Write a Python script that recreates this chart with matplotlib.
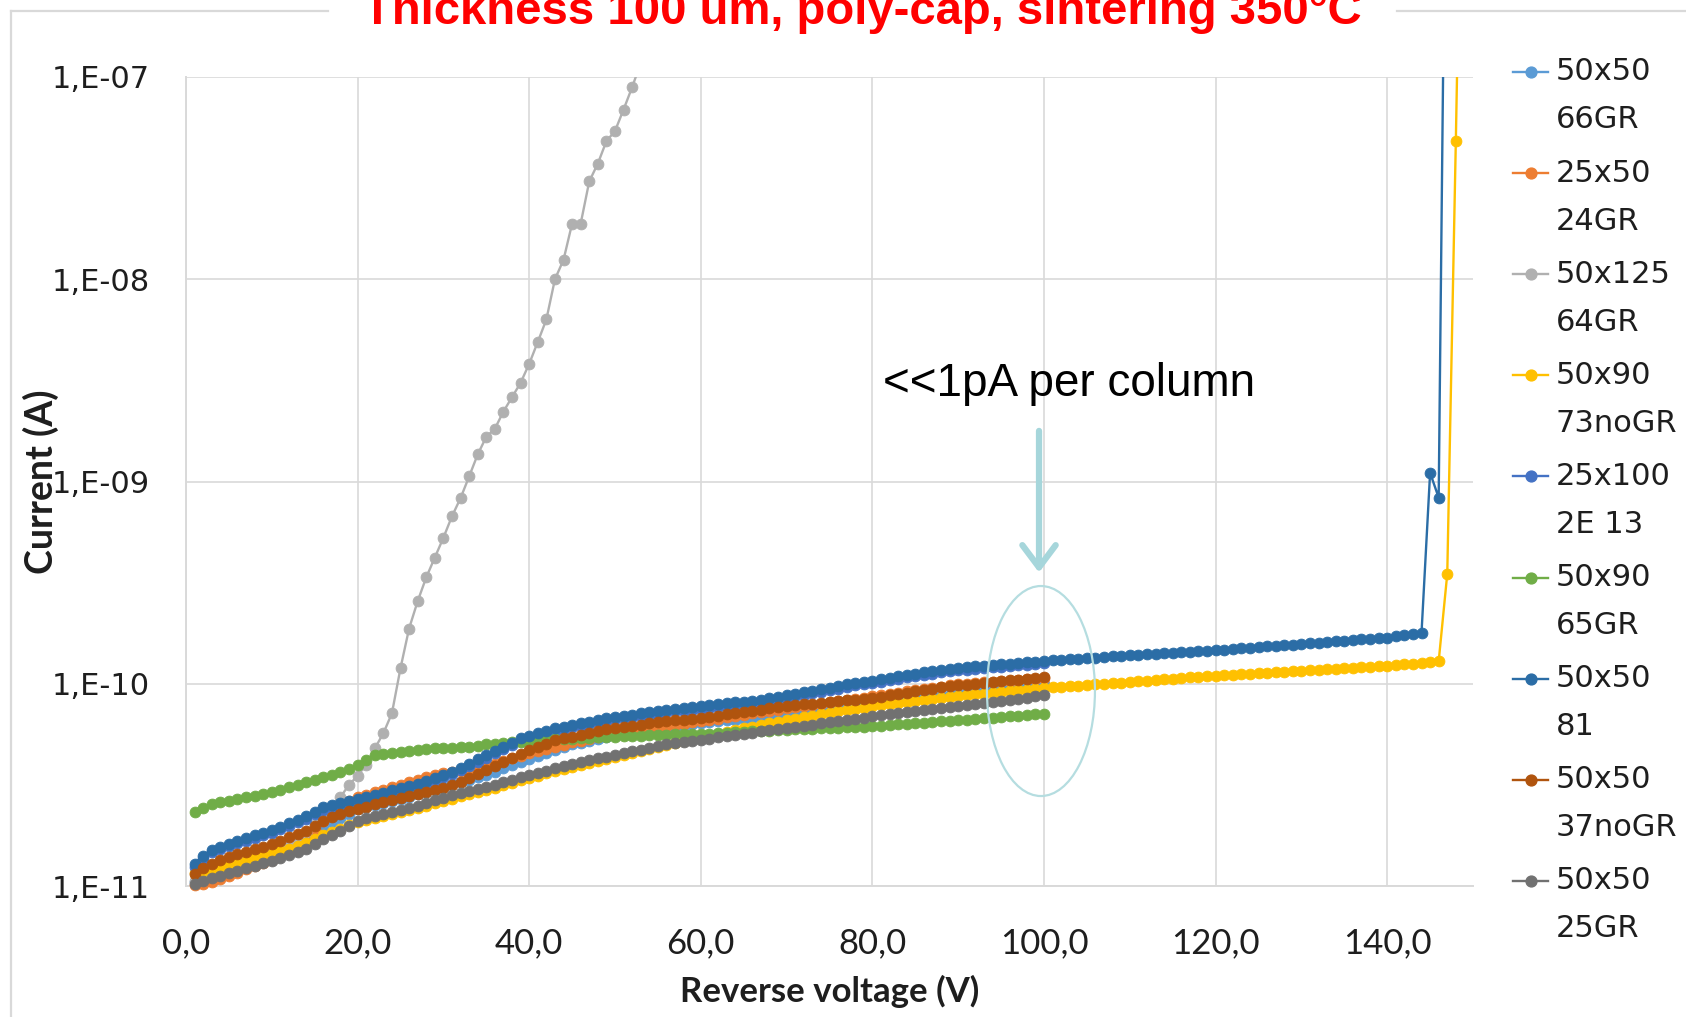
import matplotlib
matplotlib.use("Agg")
import matplotlib.pyplot as plt
from matplotlib.lines import Line2D
from matplotlib.patches import Ellipse, FancyArrowPatch
from matplotlib.transforms import Bbox, TransformedBbox
from matplotlib.ticker import NullLocator

# ---------------------------------------------------------------------------
# I-V sweeps (reverse bias, 1 V steps starting at 1 V).
# Currents are stored as log10(I / A).
# ---------------------------------------------------------------------------
series_labels = ["50x50\n66GR", "25x50\n24GR", "50x125\n64GR", "50x90\n73noGR",
                 "25x100\n2E 13", "50x90\n65GR", "50x50\n81", "50x50\n37noGR",
                 "50x50\n25GR"]
series_colors = ["#5B9BD5", "#ED7D31", "#B0B0B0", "#FFC000", "#4472C4",
                 "#70AD47", "#2B6DA6", "#B0540E", "#717171"]

logi_50x50_66gr = [
    -10.980, -10.968, -10.955, -10.943, -10.930, -10.916, -10.902, -10.888, -10.874, -10.860,
    -10.834, -10.808, -10.782, -10.756, -10.730, -10.708, -10.686, -10.664, -10.642, -10.620,
    -10.610, -10.600, -10.590, -10.580, -10.570, -10.558, -10.546, -10.534, -10.522, -10.510,
    -10.498, -10.486, -10.474, -10.462, -10.450, -10.434, -10.418, -10.402, -10.386, -10.370,
    -10.356, -10.342, -10.328, -10.314, -10.300, -10.291, -10.282, -10.273, -10.264, -10.255,
    -10.249, -10.243, -10.237, -10.231, -10.225, -10.219, -10.213, -10.207, -10.201, -10.195,
    -10.190, -10.186, -10.181, -10.177, -10.172, -10.168, -10.163, -10.159, -10.154, -10.150,
    -10.145, -10.140, -10.135, -10.130, -10.125, -10.119, -10.114, -10.109, -10.103, -10.098,
    -10.093, -10.089, -10.084, -10.080, -10.075, -10.070, -10.066, -10.061, -10.057, -10.052,
    -10.047, -10.042, -10.037, -10.032, -10.027, -10.022, -10.017, -10.011, -10.006, -10.001,
]

logi_25x50_24gr = [
    -10.995, -10.988, -10.978, -10.965, -10.950, -10.935, -10.918, -10.902, -10.886, -10.870,
    -10.840, -10.810, -10.780, -10.750, -10.720, -10.680, -10.640, -10.600, -10.580, -10.560,
    -10.548, -10.536, -10.524, -10.512, -10.500, -10.487, -10.474, -10.461, -10.450, -10.440,
    -10.437, -10.433, -10.428, -10.420, -10.410, -10.396, -10.382, -10.368, -10.355, -10.343,
    -10.333, -10.323, -10.312, -10.301, -10.290, -10.281, -10.272, -10.263, -10.254, -10.245,
    -10.239, -10.233, -10.227, -10.221, -10.215, -10.209, -10.203, -10.197, -10.191, -10.185,
    -10.179, -10.172, -10.166, -10.160, -10.154, -10.147, -10.141, -10.135, -10.128, -10.122,
    -10.116, -10.110, -10.104, -10.098, -10.092, -10.086, -10.080, -10.074, -10.068, -10.062,
    -10.056, -10.050, -10.044, -10.038, -10.032, -10.026, -10.020, -10.014, -10.008, -10.002,
    -9.999, -9.996, -9.993, -9.990, -9.987, -9.984, -9.981, -9.978, -9.975, -9.972,
]

logi_50x125_64gr = [
    -10.975, -10.955, -10.940, -10.925, -10.910, -10.895, -10.880, -10.865, -10.850, -10.835,
    -10.815, -10.790, -10.765, -10.735, -10.700, -10.660, -10.610, -10.560, -10.500, -10.455,
    -10.400, -10.320, -10.245, -10.146, -9.923, -9.727, -9.592, -9.474, -9.376, -9.278,
    -9.172, -9.082, -8.975, -8.866, -8.779, -8.739, -8.654, -8.583, -8.512, -8.418,
    -8.310, -8.199, -8.000, -7.904, -7.725, -7.725, -7.516, -7.428, -7.317, -7.267,
    -7.161, -7.050, -6.930,
]

logi_50x90_73nogr = [
    -10.934, -10.925, -10.915, -10.905, -10.895, -10.885, -10.875, -10.864, -10.853, -10.842,
    -10.829, -10.815, -10.801, -10.786, -10.768, -10.750, -10.733, -10.716, -10.700, -10.685,
    -10.675, -10.665, -10.655, -10.645, -10.635, -10.625, -10.615, -10.604, -10.592, -10.580,
    -10.568, -10.557, -10.546, -10.535, -10.524, -10.513, -10.501, -10.489, -10.477, -10.465,
    -10.454, -10.443, -10.432, -10.422, -10.411, -10.401, -10.391, -10.381, -10.371, -10.361,
    -10.351, -10.341, -10.331, -10.321, -10.311, -10.302, -10.293, -10.284, -10.275, -10.266,
    -10.257, -10.248, -10.239, -10.230, -10.221, -10.212, -10.203, -10.195, -10.187, -10.179,
    -10.172, -10.165, -10.158, -10.151, -10.144, -10.137, -10.130, -10.124, -10.118, -10.112,
    -10.107, -10.101, -10.096, -10.091, -10.086, -10.081, -10.076, -10.071, -10.066, -10.061,
    -10.057, -10.053, -10.049, -10.045, -10.041, -10.037, -10.033, -10.029, -10.025, -10.021,
    -10.018, -10.015, -10.012, -10.009, -10.006, -10.003, -10.000, -9.997, -9.994, -9.991,
    -9.988, -9.985, -9.982, -9.978, -9.975, -9.972, -9.969, -9.966, -9.963, -9.960,
    -9.958, -9.955, -9.953, -9.950, -9.948, -9.945, -9.943, -9.940, -9.938, -9.935,
    -9.933, -9.930, -9.928, -9.925, -9.923, -9.920, -9.918, -9.915, -9.913, -9.910,
    -9.907, -9.903, -9.900, -9.896, -9.893, -9.889, -9.457, -7.314, -5.000,
]

logi_25x100_2e13 = [
    -10.905, -10.866, -10.834, -10.818, -10.803, -10.789, -10.776, -10.762, -10.749, -10.736,
    -10.720, -10.703, -10.685, -10.668, -10.645, -10.623, -10.612, -10.602, -10.591, -10.580,
    -10.570, -10.560, -10.550, -10.539, -10.528, -10.517, -10.506, -10.492, -10.477, -10.463,
    -10.448, -10.427, -10.407, -10.386, -10.365, -10.344, -10.323, -10.303, -10.282, -10.270,
    -10.257, -10.245, -10.233, -10.224, -10.216, -10.207, -10.199, -10.190, -10.182, -10.176,
    -10.171, -10.165, -10.159, -10.153, -10.148, -10.142, -10.137, -10.133, -10.128, -10.123,
    -10.118, -10.114, -10.109, -10.104, -10.100, -10.095, -10.090, -10.083, -10.076, -10.069,
    -10.062, -10.055, -10.048, -10.040, -10.032, -10.024, -10.015, -10.007, -10.002, -9.997,
    -9.990, -9.983, -9.976, -9.969, -9.962, -9.956, -9.950, -9.943, -9.937, -9.933,
    -9.930, -9.926, -9.922, -9.919, -9.915, -9.912, -9.909, -9.905, -9.902, -9.899,
]

logi_50x90_65gr = [
    -10.635, -10.614, -10.594, -10.586, -10.578, -10.569, -10.561, -10.553, -10.545, -10.536,
    -10.524, -10.511, -10.499, -10.486, -10.474, -10.461, -10.449, -10.436, -10.420, -10.403,
    -10.378, -10.353, -10.348, -10.342, -10.337, -10.333, -10.329, -10.324, -10.320, -10.318,
    -10.316, -10.314, -10.312, -10.306, -10.299, -10.296, -10.292, -10.289, -10.286, -10.282,
    -10.279, -10.277, -10.275, -10.273, -10.271, -10.268, -10.266, -10.264, -10.262, -10.261,
    -10.259, -10.258, -10.256, -10.255, -10.253, -10.252, -10.250, -10.249, -10.249, -10.248,
    -10.246, -10.244, -10.242, -10.240, -10.238, -10.236, -10.234, -10.232, -10.230, -10.228,
    -10.226, -10.224, -10.222, -10.220, -10.219, -10.217, -10.215, -10.213, -10.212, -10.210,
    -10.207, -10.204, -10.201, -10.198, -10.195, -10.192, -10.189, -10.186, -10.183, -10.180,
    -10.177, -10.174, -10.171, -10.168, -10.165, -10.161, -10.158, -10.155, -10.152, -10.149,
]

logi_50x50_81 = [
    -10.892, -10.851, -10.820, -10.805, -10.790, -10.776, -10.763, -10.750, -10.737, -10.724,
    -10.707, -10.690, -10.672, -10.655, -10.632, -10.610, -10.600, -10.590, -10.579, -10.568,
    -10.558, -10.548, -10.538, -10.527, -10.516, -10.505, -10.494, -10.480, -10.465, -10.451,
    -10.436, -10.415, -10.395, -10.374, -10.353, -10.332, -10.311, -10.291, -10.270, -10.258,
    -10.245, -10.233, -10.221, -10.212, -10.204, -10.195, -10.187, -10.178, -10.170, -10.164,
    -10.159, -10.153, -10.147, -10.141, -10.136, -10.130, -10.125, -10.121, -10.116, -10.111,
    -10.106, -10.102, -10.097, -10.092, -10.088, -10.083, -10.078, -10.071, -10.064, -10.057,
    -10.050, -10.043, -10.036, -10.028, -10.020, -10.012, -10.003, -9.995, -9.990, -9.985,
    -9.978, -9.971, -9.964, -9.957, -9.950, -9.944, -9.938, -9.931, -9.925, -9.921,
    -9.918, -9.914, -9.910, -9.907, -9.903, -9.900, -9.897, -9.893, -9.890, -9.887,
    -9.884, -9.881, -9.879, -9.876, -9.873, -9.871, -9.868, -9.865, -9.863, -9.860,
    -9.857, -9.855, -9.852, -9.849, -9.847, -9.844, -9.841, -9.839, -9.836, -9.834,
    -9.831, -9.828, -9.825, -9.822, -9.818, -9.815, -9.812, -9.809, -9.806, -9.803,
    -9.800, -9.797, -9.794, -9.790, -9.787, -9.784, -9.781, -9.778, -9.775, -9.772,
    -9.766, -9.760, -9.754, -9.748, -8.957, -9.080, -5.000,
]

logi_50x50_37nogr = [
    -10.942, -10.909, -10.890, -10.873, -10.857, -10.842, -10.830, -10.818, -10.805, -10.793,
    -10.776, -10.760, -10.743, -10.726, -10.701, -10.677, -10.660, -10.643, -10.630, -10.618,
    -10.607, -10.597, -10.586, -10.576, -10.565, -10.555, -10.544, -10.534, -10.523, -10.513,
    -10.502, -10.484, -10.465, -10.447, -10.428, -10.407, -10.387, -10.366, -10.345, -10.329,
    -10.312, -10.296, -10.279, -10.270, -10.261, -10.252, -10.243, -10.234, -10.225, -10.219,
    -10.213, -10.208, -10.202, -10.196, -10.191, -10.185, -10.181, -10.177, -10.173, -10.169,
    -10.163, -10.157, -10.151, -10.145, -10.140, -10.134, -10.128, -10.122, -10.116, -10.110,
    -10.106, -10.102, -10.098, -10.093, -10.089, -10.085, -10.081, -10.078, -10.074, -10.070,
    -10.064, -10.057, -10.051, -10.044, -10.038, -10.031, -10.025, -10.018, -10.012, -10.008,
    -10.004, -10.000, -9.996, -9.992, -9.988, -9.983, -9.979, -9.975, -9.971, -9.967,
]

logi_50x50_25gr = [
    -10.990, -10.975, -10.962, -10.950, -10.937, -10.925, -10.913, -10.900, -10.888, -10.876,
    -10.861, -10.846, -10.832, -10.817, -10.792, -10.768, -10.747, -10.726, -10.701, -10.677,
    -10.666, -10.654, -10.643, -10.633, -10.622, -10.612, -10.602, -10.590, -10.577, -10.565,
    -10.552, -10.542, -10.532, -10.521, -10.511, -10.499, -10.486, -10.474, -10.461, -10.451,
    -10.440, -10.430, -10.419, -10.409, -10.399, -10.389, -10.379, -10.369, -10.360, -10.351,
    -10.343, -10.334, -10.326, -10.317, -10.309, -10.300, -10.294, -10.289, -10.283, -10.277,
    -10.271, -10.265, -10.260, -10.254, -10.248, -10.242, -10.236, -10.231, -10.225, -10.219,
    -10.213, -10.207, -10.202, -10.196, -10.190, -10.184, -10.178, -10.173, -10.167, -10.161,
    -10.156, -10.151, -10.146, -10.140, -10.135, -10.130, -10.125, -10.120, -10.115, -10.110,
    -10.104, -10.099, -10.094, -10.089, -10.084, -10.079, -10.073, -10.068, -10.063, -10.058,
]

series_logi = [logi_50x50_66gr, logi_25x50_24gr, logi_50x125_64gr, logi_50x90_73nogr,
               logi_25x100_2e13, logi_50x90_65gr, logi_50x50_81, logi_50x50_37nogr,
               logi_50x50_25gr]

start_voltage = 1  # first point of every sweep, V
x_ticks = [0, 20, 40, 60, 80, 100, 120, 140]
x_tick_labels = ["0,0", "20,0", "40,0", "60,0", "80,0", "100,0", "120,0", "140,0"]
y_ticks = [1e-11, 1e-10, 1e-9, 1e-8, 1e-7]
y_tick_labels = ["1,E-11", "1,E-10", "1,E-09", "1,E-08", "1,E-07"]

title_text = "Thickness 100 um, poly-cap, sintering 350°C"
note_text = "<<1pA per column"

# ---------------------------------------------------------------------------
W, H = 1686, 1017
fig = plt.figure(figsize=(W / 100, H / 100), dpi=100)
fig.patch.set_facecolor("white")

ax_l, ax_r, ax_t, ax_b = 186, 1473, 77, 886
ax = fig.add_axes([ax_l / W, 1 - ax_b / H, (ax_r - ax_l) / W, (ax_b - ax_t) / H])

grid_color = "#D9D9D9"
text_color = "#1E1E1E"
marker_size = 7.8
line_width = 1.7

# clip region: plot area, extended a little downward so bottom markers stay whole
clip = TransformedBbox(Bbox([[-0.01, -0.02], [1.0, 1.0]]), ax.transAxes)

for logi, color in zip(series_logi, series_colors):
    volts = list(range(start_voltage, start_voltage + len(logi)))
    current = [10.0 ** v for v in logi]
    ln, = ax.plot(volts, current, color=color, lw=line_width, marker="o", ms=marker_size,
                  markeredgewidth=0.6, markeredgecolor=color, zorder=3)
    ln.set_clip_box(clip)

ax.set_yscale("log")
ax.set_xlim(0, 150)
ax.set_ylim(1e-11, 1e-7)
ax.yaxis.set_minor_locator(NullLocator())
ax.set_xticks(x_ticks)
ax.set_xticklabels(x_tick_labels)
ax.set_yticks(y_ticks)
ax.set_yticklabels(y_tick_labels)
ax.tick_params(axis="both", length=0, colors=text_color)
ax.tick_params(axis="y", labelsize=22, pad=26)
ax.tick_params(axis="x", labelsize=25, pad=30)
for lab in ax.get_yticklabels():
    lab.set_family("DejaVu Sans")
for lab in ax.get_xticklabels():
    lab.set_family("Lato")

ax.set_axisbelow(True)
ax.grid(True, which="major", color=grid_color, lw=1.2)
for side in ("top", "right"):
    ax.spines[side].set_visible(False)
for side in ("left", "bottom"):
    ax.spines[side].set_color(grid_color)
    ax.spines[side].set_linewidth(1.4)

# axis titles
fig.text(41 / W, 1 - 481.5 / H, "Current (A)", rotation=90, ha="center", va="center",
         fontsize=27, fontweight="bold", family="Lato", color=text_color)
fig.text(829.5 / W, 1 - 991 / H, "Reverse voltage (V)", ha="center", va="center",
         fontsize=25, fontweight="bold", family="Lato", color=text_color)

# chart title
fig.text(862 / W, 1 - 24 / H, title_text, ha="center", va="baseline", fontsize=34,
         fontweight="bold", family="Liberation Sans", color="#FF0000")

# chart-area frame (interrupted by the title)
frame_kw = dict(transform=fig.transFigure, color=grid_color, lw=1.6)
fig.add_artist(Line2D([11 / W, 328 / W], [1 - 11 / H, 1 - 11 / H], **frame_kw))
fig.add_artist(Line2D([1397 / W, 1.0], [1 - 11 / H, 1 - 11 / H], **frame_kw))
fig.add_artist(Line2D([11 / W, 11 / W], [1 - 11 / H, 0.0], **frame_kw))

# annotation: note, arrow and ellipse around the 100 V end points
ax.text(0.6865, 0.6205, note_text, transform=ax.transAxes, ha="center", va="center",
        fontsize=33, family="Liberation Sans", color="black")
arrow = FancyArrowPatch((0.6628, 0.566), (0.6628, 0.384), transform=ax.transAxes,
                        arrowstyle="->,head_length=0.8,head_width=0.6",
                        color="#A6D6DB", lw=4.5, mutation_scale=20, zorder=5)
ax.add_patch(arrow)
ax.add_patch(Ellipse((0.6643, 0.241), 0.0839, 0.2596, transform=ax.transAxes,
                     fill=False, edgecolor="#B5DDE0", lw=1.6, zorder=5))

# legend
hx0, hxm, hx1, tx = 1513, 1530.5, 1548, 1556
for i, (lab, color) in enumerate(zip(series_labels, series_colors)):
    yc = 72 + 101.1 * i
    fig.add_artist(Line2D([hx0 / W, hxm / W, hx1 / W], [1 - yc / H] * 3,
                          transform=fig.transFigure, color=color, lw=line_width,
                          marker="o", ms=marker_size, markevery=[1]))
    first, second = lab.split("\n")
    fig.text(tx / W, 1 - yc / H, first, ha="left", va="center", fontsize=22,
             family="DejaVu Sans", color=text_color)
    fig.text(tx / W, 1 - (yc + 48) / H, second, ha="left", va="center", fontsize=22,
             family="DejaVu Sans", color=text_color)

fig.savefig("out.png", dpi=100, facecolor="white")
